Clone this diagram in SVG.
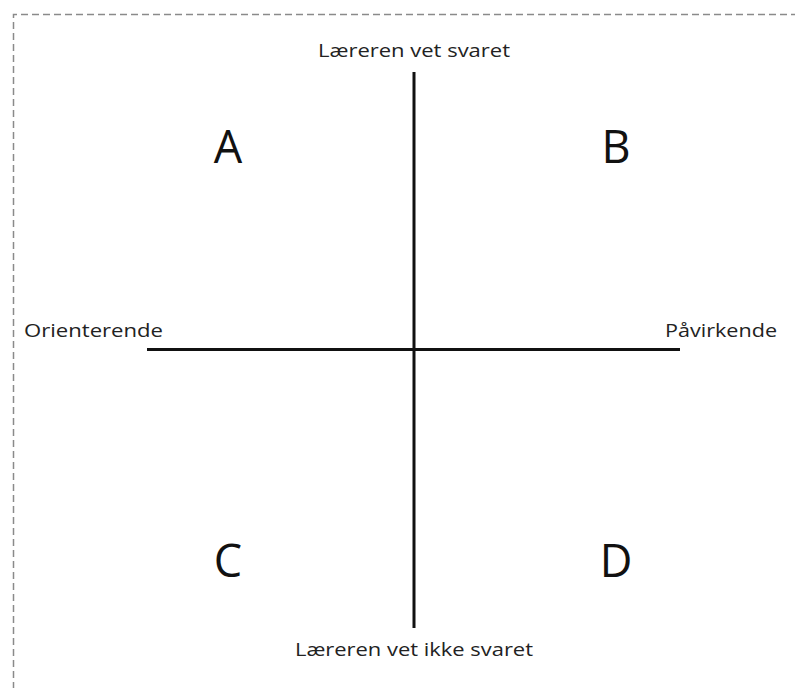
<svg xmlns="http://www.w3.org/2000/svg" width="795" height="688" viewBox="0 0 795 688">
<style>
.lbl{font-family:"Open Sans","Liberation Sans",sans-serif;font-size:18px;fill:#222;}
.big{font-family:"Open Sans","Liberation Sans",sans-serif;font-size:45px;fill:#111;text-anchor:middle;}
.axis{stroke:#111;stroke-width:3;fill:none;}
</style>
<rect width="795" height="688" fill="#fff"/>
<path d="M13.5,700 V14.5 H800" fill="none" stroke="#8a8a8a" stroke-width="1.5" stroke-dasharray="7,4"/>
<g id="connectors">
<line class="axis" x1="414" y1="72" x2="414" y2="628"/>
<line class="axis" x1="147" y1="349.5" x2="680" y2="349.5"/>
</g>
<g id="top"><text class="lbl" x="318" y="57" textLength="192" lengthAdjust="spacingAndGlyphs">Læreren vet svaret</text></g>
<g id="bottom"><text class="lbl" x="295" y="656" textLength="238" lengthAdjust="spacingAndGlyphs">Læreren vet ikke svaret</text></g>
<g id="left"><text class="lbl" x="24" y="337" textLength="139" lengthAdjust="spacingAndGlyphs">Orienterende</text></g>
<g id="right"><text class="lbl" x="665" y="337" textLength="112" lengthAdjust="spacingAndGlyphs">Påvirkende</text></g>
<g id="A"><text class="big" x="228" y="163">A</text></g>
<g id="B"><text class="big" x="616" y="163">B</text></g>
<g id="C"><text class="big" x="228" y="577">C</text></g>
<g id="D"><text class="big" x="616" y="577">D</text></g>
</svg>
